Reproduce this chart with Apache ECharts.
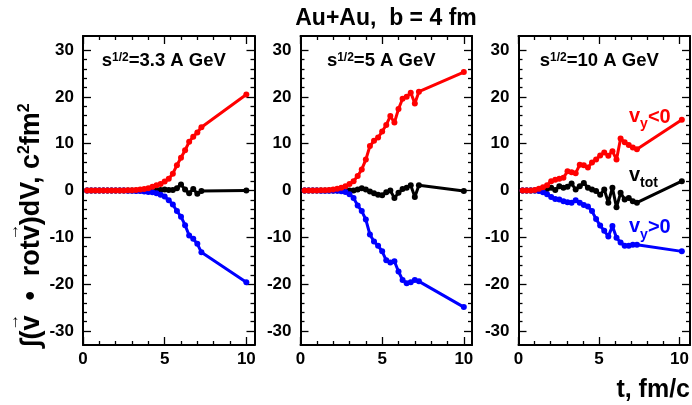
<!DOCTYPE html>
<html>
<head>
<meta charset="utf-8">
<script src="https://cdn.jsdelivr.net/npm/echarts@6/dist/echarts.min.js"></script>
<style>html,body{margin:0;padding:0;background:#fff;}#c{width:692px;height:405px;}</style>
</head>
<body>
<div id="c"></div>
<script>
// ---------------- data ----------------
const times = [0.25,0.5,0.75,1,1.25,1.5,1.75,2,2.25,2.5,2.75,3,3.25,3.5,3.75,4,4.25,4.5,4.75,5,5.25,5.5,5.75,6,6.25,6.5,6.75,7,7.25,10];

const panelEnergies = ['3.3', '5', '10'];

// sqrt(s)=3.3 A GeV
const red1   = [0,0,0,0,0,0,0,0,0,0,0.05,0.05,0.1,0.2,0.3,0.5,0.8,1.1,1.4,1.9,2.5,3.6,5.4,7.0,8.6,10.4,11.5,12.4,13.5,20.5];
const blue1  = [0,0,0,0,0,0,0,0,0,0,-0.05,-0.05,-0.1,-0.1,-0.2,-0.3,-0.4,-0.6,-0.9,-1.3,-2.1,-3.0,-4.4,-5.6,-7.4,-9.6,-10.3,-11.4,-13.2,-19.6];
const black1 = [0,0,0,0,0,0,0,0,0,0,0,0,0,0,0,0,0.05,0.1,0.1,0.2,0.1,0.1,0.5,1.3,0.2,-0.6,0.3,-0.7,-0.1,0.0];

// sqrt(s)=5 A GeV
const red2   = [0,0,0,0,0.05,0.05,0.1,0.2,0.35,0.6,0.9,1.4,2.0,3.1,4.5,6.6,9.5,10.6,11.3,12.6,14.0,15.9,14.5,17.4,19.6,20.0,20.9,18.6,21.1,25.3];
const blue2  = [0,0,0,0,-0.05,-0.05,-0.05,-0.05,-0.05,-0.15,-0.3,-0.8,-1.6,-3.2,-4.4,-6.2,-9.4,-10.9,-11.8,-13.0,-14.9,-15.4,-15.1,-17.3,-19.1,-19.8,-19.6,-19.1,-19.4,-24.9];
const black2 = [0,0,0,0,0,0,0,0,0,0,0,0,0,0.2,0.5,0.2,-0.2,-0.6,-0.9,-1.0,-0.4,0.0,-1.6,-0.5,0.3,0.6,1.1,-1.4,1.1,-0.1];

// sqrt(s)=10 A GeV
const red3   = [0,0,0,0.1,0.4,0.7,1.1,2.0,2.3,2.5,2.7,4.1,3.9,3.7,5.5,5.4,4.9,6.0,6.6,7.5,8.1,7.4,8.4,6.6,11.1,10.3,9.7,9.2,8.8,15.1];
const blue3  = [0,0,0,0,-0.1,-0.4,-0.8,-1.4,-1.8,-1.9,-2.3,-2.5,-2.6,-2.1,-2.6,-3.1,-3.4,-4.4,-6.1,-7.5,-8.6,-9.8,-7.6,-10.1,-11.1,-11.8,-11.8,-11.6,-11.6,-13.0];
const black3 = [0,0,0,0,0,0.1,0.3,0.6,0.1,0.9,0.6,0.8,1.5,0.2,0.9,1.6,0.6,0.2,-0.1,-0.9,0.2,-2.6,0.6,-3.6,-0.5,-1.9,-1.6,-2.3,-2.6,2.0];

const xTickValues = [0, 5, 10];
const yTickValues = [-30, -20, -10, 0, 10, 20, 30];

const panels = [
  {energy: panelEnergies[0], red: red1, blue: blue1, black: black1},
  {energy: panelEnergies[1], red: red2, blue: blue2, black: black2},
  {energy: panelEnergies[2], red: red3, blue: blue3, black: black3}
];

// ---------------- layout ----------------
const FONT = "'Liberation Sans', Arial, Helvetica, sans-serif";
const PL = [83, 300.5, 518.5], PW = 171.5, PT = 36, PH = 309;
const XMIN = 0, XMAX = 10.5, YMIN = -33, YMAX = 33;
const XT_MAX = xTickValues[xTickValues.length - 1];
const YT_MIN = yTickValues[0], YT_MAX = yTickValues[yTickValues.length - 1];

const grids = [], xAxes = [], yAxes = [], series = [];
const frameLine = {show: true, onZero: false, lineStyle: {color: '#000', width: 2}};
const tickStyle = {color: '#000', width: 1.3};
const labelStyle = {show: true, color: '#000', fontSize: 17, fontWeight: 'bold', fontFamily: FONT};

PL.forEach((left, i) => {
  const p = panels[i];
  const ppuY = PH / (YMAX - YMIN);
  const gD = grids.length;
  grids.push({left: left, top: PT, width: PW, height: PH});
  const gX = grids.length;
  grids.push({left: left, top: PT, width: PW * (XT_MAX - XMIN) / (XMAX - XMIN), height: PH});
  const gY = grids.length;
  grids.push({left: left, top: PT + (YMAX - YT_MAX) * ppuY, width: PW, height: (YT_MAX - YT_MIN) * ppuY});

  const xD = xAxes.length;
  ['bottom', 'top'].forEach(pos => xAxes.push({
    gridIndex: gD, type: 'value', position: pos, min: XMIN, max: XMAX,
    axisLine: frameLine, axisTick: {show: false}, axisLabel: {show: false}, splitLine: {show: false}
  }));
  const yD = yAxes.length;
  ['left', 'right'].forEach(pos => yAxes.push({
    gridIndex: gD, type: 'value', position: pos, min: YMIN, max: YMAX,
    axisLine: frameLine, axisTick: {show: false}, axisLabel: {show: false}, splitLine: {show: false}
  }));

  ['bottom', 'top'].forEach(pos => xAxes.push({
    gridIndex: gX, type: 'value', position: pos, min: xTickValues[0], max: XT_MAX, interval: 5,
    axisLine: {show: false, onZero: false},
    axisTick: {show: true, inside: true, length: 8, lineStyle: tickStyle},
    minorTick: {show: true, splitNumber: 5, length: 4, lineStyle: tickStyle},
    axisLabel: pos === 'bottom' ? Object.assign({margin: 6}, labelStyle) : {show: false},
    splitLine: {show: false}
  }));
  yAxes.push({gridIndex: gX, type: 'value', show: false, min: 0, max: 1});

  xAxes.push({gridIndex: gY, type: 'value', show: false, min: 0, max: 1});
  ['left', 'right'].forEach(pos => yAxes.push({
    gridIndex: gY, type: 'value', position: pos, min: YT_MIN, max: YT_MAX, interval: 10,
    axisLine: {show: false, onZero: false},
    axisTick: {show: true, inside: true, length: 8, lineStyle: tickStyle},
    minorTick: {show: true, splitNumber: 5, length: 4, lineStyle: tickStyle},
    axisLabel: pos === 'left' ? Object.assign({margin: 9}, labelStyle) : {show: false},
    splitLine: {show: false}
  }));

  [['black', '#000000'], ['blue', '#0000ff'], ['red', '#ff0000']].forEach(([key, col]) => {
    series.push({
      type: 'line', xAxisIndex: xD, yAxisIndex: yD,
      data: times.map((t, k) => [t, p[key][k]]),
      symbol: 'circle', symbolSize: 6, showSymbol: true,
      lineStyle: {color: col, width: 3}, itemStyle: {color: col},
      animation: false, silent: true, z: 3
    });
  });
});

// ---------------- text helpers ----------------
const mctx = document.createElement('canvas').getContext('2d');
function tw(s, fs) { mctx.font = 'bold ' + fs + 'px ' + FONT; return mctx.measureText(s).width; }
function mkText(s, x, base, fs, color, align) {
  return {type: 'text', x: x, y: base - 0.35 * fs, silent: true, z: 10,
    style: {text: s, font: 'bold ' + fs + 'px ' + FONT, fill: color || '#000',
      textAlign: align || 'left', align: align || 'left', textVerticalAlign: 'middle', verticalAlign: 'middle'}};
}
function run(parts, x, align) {
  const total = parts.reduce((a, p) => a + tw(p.s, p.fs), 0);
  let cx = align === 'center' ? x - total / 2 : (align === 'right' ? x - total : x);
  const els = [];
  parts.forEach(p => {
    const w = tw(p.s, p.fs);
    els.push(mkText(p.s, cx, p.base, p.fs, p.color, 'left'));
    if (p.arrow) els.push(mkText('\u2192', cx + w / 2 + 1, p.base - 22, 17, p.color, 'center'));
    cx += w;
  });
  return els;
}

const graphics = [];
graphics.push(...run([{s: 'Au+Au,  b = 4 fm', fs: 23, base: 27}], 386, 'center'));
PL.forEach((left, i) => {
  const cx = left + PW / 2 - 5;
  graphics.push(...run([
    {s: 's', fs: 18.5, base: 67.5},
    {s: '1/2', fs: 12, base: 61.5},
    {s: '=' + panelEnergies[i] + ' A GeV', fs: 18.5, base: 67.5}
  ], cx, 'center'));
});
graphics.push(...run([{s: 't, fm/c', fs: 25, base: 399}], 690, 'right'));
graphics.push({
  type: 'group', x: 31.5, y: 347, rotation: Math.PI / 2, silent: true,
  children: run([
    {s: '\u222B(', fs: 27, base: 9.5},
    {s: 'v', fs: 27, base: 9.5, arrow: true},
    {s: '  \u2022  rot', fs: 27, base: 9.5},
    {s: 'v', fs: 27, base: 9.5, arrow: true},
    {s: ')dV, c', fs: 27, base: 9.5},
    {s: '2', fs: 16, base: -1.5},
    {s: 'fm', fs: 27, base: 9.5},
    {s: '2', fs: 16, base: -1.5}
  ], 0, 'left')
});
graphics.push(...run([
  {s: 'v', fs: 20, base: 123.5, color: '#ff0000'},
  {s: 'y', fs: 14, base: 129.5, color: '#ff0000'},
  {s: '<0', fs: 20, base: 124.5, color: '#ff0000'}
], 629, 'left'));
graphics.push(...run([
  {s: 'v', fs: 20, base: 182, color: '#000'},
  {s: 'tot', fs: 14, base: 188, color: '#000'}
], 629, 'left'));
graphics.push(...run([
  {s: 'v', fs: 20, base: 233, color: '#0000ff'},
  {s: 'y', fs: 14, base: 240, color: '#0000ff'},
  {s: '>0', fs: 20, base: 234, color: '#0000ff'}
], 629, 'left'));

const chart = echarts.init(document.getElementById('c'), null, {renderer: 'canvas'});
chart.setOption({
  animation: false,
  backgroundColor: '#ffffff',
  grid: grids,
  xAxis: xAxes,
  yAxis: yAxes,
  series: series,
  graphic: {elements: graphics}
});
</script>
</body>
</html>
